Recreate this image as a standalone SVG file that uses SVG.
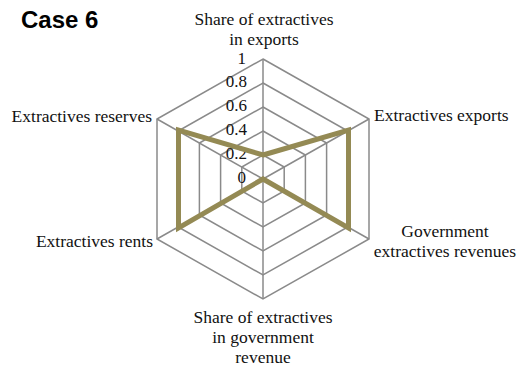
<svg xmlns="http://www.w3.org/2000/svg" width="519" height="367" viewBox="0 0 519 367">
<style>
.grid{fill:none;stroke:#8a8a8a;stroke-width:1.5}
.lbl{font-family:'Liberation Serif','Times New Roman','DejaVu Serif',serif;font-size:17.5px;fill:#111}
.tick{font-family:'Liberation Serif','Times New Roman','DejaVu Serif',serif;font-size:17px;fill:#111;text-anchor:end}
.title{font-family:'Liberation Sans',Arial,sans-serif;font-size:24px;font-weight:bold;fill:#000}
.series{fill:none;stroke:#948A54;stroke-width:5;stroke-linejoin:miter}
</style>
<rect width="519" height="367" fill="#fff"/>
<text class="title" x="21" y="28">Case 6</text>
<g id="grid">
<polygon class="grid" points="263,59 369,119 369,239 263,299 157,239 157,119"/>
<polygon class="grid" points="263,83 347.8,131 347.8,227 263,275 178.2,227 178.2,131"/>
<polygon class="grid" points="263,107 326.6,143 326.6,215 263,251 199.4,215 199.4,143"/>
<polygon class="grid" points="263,131 305.4,155 305.4,203 263,227 220.6,203 220.6,155"/>
<polygon class="grid" points="263,155 284.2,167 284.2,191 263,203 241.8,191 241.8,167"/>
<path class="grid" d="M263,179V59M263,179L369,119M263,179L369,239M263,179V299M263,179L157,239M263,179L157,119"/>
</g>
<g id="ticks">
<text class="tick" x="246" y="64">1</text>
<text class="tick" x="247" y="87">0.8</text>
<text class="tick" x="247" y="111">0.6</text>
<text class="tick" x="247" y="135">0.4</text>
<text class="tick" x="247" y="159">0.2</text>
<text class="tick" x="246" y="183">0</text>
</g>
<g id="connectors">
<polygon id="series" class="series" points="263,155 348.5,130 348.5,228 263,179 178.5,228 178.5,130"/>
</g>
<g id="axis-top"><text class="lbl" text-anchor="middle" x="264" y="25">Share of extractives</text><text class="lbl" text-anchor="middle" x="264" y="45">in exports</text></g>
<g id="axis-ur"><text class="lbl" x="374" y="121">Extractives exports</text></g>
<g id="axis-lr"><text class="lbl" text-anchor="middle" x="445" y="237">Government</text><text class="lbl" text-anchor="middle" x="445" y="257">extractives revenues</text></g>
<g id="axis-bottom"><text class="lbl" text-anchor="middle" x="263" y="323">Share of extractives</text><text class="lbl" text-anchor="middle" x="263" y="343">in government</text><text class="lbl" text-anchor="middle" x="263" y="363">revenue</text></g>
<g id="axis-ll"><text class="lbl" text-anchor="end" x="153" y="247">Extractives rents</text></g>
<g id="axis-ul"><text class="lbl" text-anchor="end" x="152" y="122">Extractives reserves</text></g>
</svg>
